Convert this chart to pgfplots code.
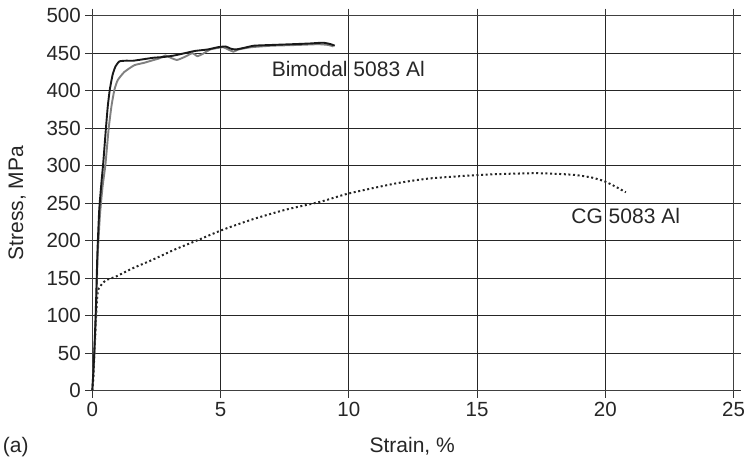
\documentclass[border=0pt]{standalone}
\usepackage{pgfplots}
\pgfplotsset{compat=1.18}
\usepackage{fontspec}
\setmainfont{Liberation Sans}
\begin{document}
\begin{tikzpicture}
\useasboundingbox (-92.3pt,-68.3pt) rectangle (655.7pt,390.7pt);
\begin{axis}[
  at={(0,0)}, anchor=south west,
  scale only axis,
  width=641.3pt, height=375pt,
  xmin=0, xmax=25, ymin=0, ymax=500,
  xtick={0,5,...,25}, ytick={0,50,...,500},
  grid=major,
  major grid style={black!85, line width=1pt},
  axis line style={black!75, line width=1.2pt},
  tick align=outside,
  major tick length=7pt,
  tick style={black!80, line width=1pt},
  font=\fontsize{21}{25}\selectfont,
  ticklabel style={font=\fontsize{20.5}{24}\selectfont, text=black!85},
  /pgf/number format/assume math mode=true,
  xticklabel style={yshift=-1pt},
  yticklabel style={xshift=-1pt},
  xlabel={Strain, \%},
  ylabel={Stress, MPa},
  xlabel style={at={(axis description cs:0.4988,-0.1643)}, anchor=base, text=black!85},
  ylabel style={at={(axis description cs:-0.1173,0.5)}, anchor=center, text=black!85},
  clip=false,
]
% CG 5083 Al (dotted)
\addplot[black!85, line width=2pt, dash pattern=on 2pt off 2.6pt, smooth, tension=0.4] coordinates {
(0,0) (0.04,15) (0.07,41) (0.13,85) (0.2,128) (0.26,137) (0.52,147) (0.91,152)
(1.56,163) (2.31,174) (3.2,188) (4.13,201) (5.04,214) (6.2,228) (7.5,241)
(8.9,252) (10,263) (11.85,276.5) (13.15,283) (15,287.5) (16,289) (17.3,290)
(18.2,289) (18.86,287.5) (19.5,284) (19.98,279) (20.4,272) (20.8,264.5)
};
% Bimodal 5083 Al (gray)
\addplot[black!50, line width=1.9pt, smooth, tension=0.3] coordinates {
(0,0) (0.07,42) (0.14,100) (0.21,180) (0.3,235) (0.4,272) (0.51,301) (0.64,350)
(0.75,380) (0.86,401) (0.99,414) (1.25,425) (1.64,434) (2.0,437) (2.3,440)
(2.6,443) (2.85,447) (3.05,444) (3.3,441) (3.6,445) (3.9,450) (4.1,446)
(4.3,449) (4.6,455) (4.9,457) (5.1,458) (5.3,455) (5.5,452) (5.7,455)
(6.2,458) (7,460) (8,461) (8.8,462) (9.2,461) (9.4,459)
};
% Bimodal 5083 Al (black)
\addplot[black!90, line width=1.9pt, smooth, tension=0.3] coordinates {
(0,0) (0.07,45) (0.14,110) (0.2,185) (0.27,241) (0.35,275) (0.43,305)
(0.52,345) (0.6,378) (0.68,401) (0.79,421) (0.9,432) (1.05,439) (1.3,440)
(1.6,440) (2.0,442) (2.4,444) (2.8,445) (3.2,447) (3.6,450) (4.0,453)
(4.5,455) (4.9,458) (5.2,459) (5.4,456) (5.6,455) (5.9,457) (6.3,460)
(7.0,461) (7.8,462) (8.5,463) (9.0,464) (9.3,462) (9.45,460)
};
\node[anchor=base west, inner sep=0pt, text=black!85] at (axis cs:6.99,418.7) {Bimodal 5083 Al};
\node[anchor=base west, inner sep=0pt, text=black!85] at (axis cs:18.67,222.3) {CG 5083 Al};
\node[anchor=base, inner sep=0pt, text=black!85] at (axis description cs:-0.1193,-0.1643) {(a)};
\end{axis}
\end{tikzpicture}
\end{document}
